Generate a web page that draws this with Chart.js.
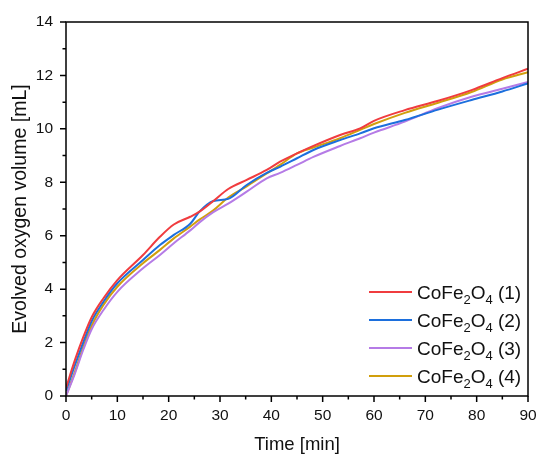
<!DOCTYPE html>
<html>
<head>
<meta charset="utf-8">
<script src="https://cdn.jsdelivr.net/npm/chart.js@4/dist/chart.umd.min.js"></script>
<style>
  html, body { margin: 0; padding: 0; background: #fff; }
  #wrap { width: 539px; height: 454px; }
</style>
</head>
<body>
<div id="wrap"><canvas id="chart" width="539" height="454"></canvas></div>
<script>
// ========================
// DATA
// ========================
const times   = [0, 1.75, 3.4, 5, 7.3, 10, 15, 18.3, 21, 24.2, 26, 28.7, 31.6, 35.2, 39.1, 41.7, 45, 48.2, 53.4, 57.3, 60, 66, 72.5, 79, 85, 90];
const sample1 = [0.3, 1.35, 2.22, 2.95, 3.66, 4.34, 5.28, 5.96, 6.42, 6.71, 6.9, 7.3, 7.75, 8.09, 8.46, 8.77, 9.08, 9.36, 9.77, 10.02, 10.3, 10.7, 11.05, 11.45, 11.9, 12.25];
const sample2 = [0.2, 1.16, 2.03, 2.8, 3.53, 4.22, 5.09, 5.65, 6.03, 6.45, 6.9, 7.3, 7.38, 7.9, 8.35, 8.58, 8.9, 9.21, 9.58, 9.83, 10.02, 10.33, 10.72, 11.08, 11.4, 11.7];
const sample3 = [0, 0.85, 1.75, 2.5, 3.22, 3.9, 4.78, 5.28, 5.72, 6.2, 6.5, 6.88, 7.2, 7.65, 8.15, 8.35, 8.65, 8.95, 9.36, 9.65, 9.86, 10.27, 10.78, 11.2, 11.5, 11.76];
const sample4 = [0, 0.91, 1.85, 2.63, 3.41, 4.09, 4.97, 5.47, 5.9, 6.34, 6.6, 6.95, 7.43, 7.85, 8.33, 8.65, 9.08, 9.3, 9.65, 9.96, 10.18, 10.6, 10.98, 11.38, 11.85, 12.12];
const seriesLabels = ['CoFe2O4 (1)', 'CoFe2O4 (2)', 'CoFe2O4 (3)', 'CoFe2O4 (4)'];
const seriesColors = ['#F03C3F', '#1C6FDD', '#B57BE6', '#D19F0C'];

const FONT = "'Liberation Sans', Arial, sans-serif";

function toPoints(vals) {
    return vals.map((v, i) => ({ x: times[i], y: v }));
}

const datasets = [sample1, sample2, sample3, sample4].map((vals, i) => ({
    label: seriesLabels[i],
    data: toPoints(vals),
    borderColor: seriesColors[i],
    backgroundColor: seriesColors[i],
    borderWidth: 2,
    pointRadius: 0,
    tension: 0.3,
    cubicInterpolationMode: 'monotone'
}));

// ========================
// FRAME + MAJOR/MINOR TICKS
// ========================
const frameTicks = {
    id: 'frameTicks',
    afterDraw(chart) {
        const { ctx, chartArea: a, scales: { x, y } } = chart;
        ctx.save();
        ctx.strokeStyle = '#000';
        ctx.lineWidth = 1.5;
        ctx.strokeRect(a.left, a.top, a.right - a.left, a.bottom - a.top);
        ctx.beginPath();
        for (let v = x.min; v <= x.max; v += 5) {
            const px = x.getPixelForValue(v);
            const len = v % 10 === 0 ? 6 : 3.5;
            ctx.moveTo(px, a.bottom);
            ctx.lineTo(px, a.bottom + len);
        }
        for (let v = y.min; v <= y.max; v += 1) {
            const py = y.getPixelForValue(v);
            const len = v % 2 === 0 ? 6 : 3.5;
            ctx.moveTo(a.left, py);
            ctx.lineTo(a.left - len, py);
        }
        ctx.stroke();
        ctx.restore();
    }
};

// ========================
// LEGEND (with subscripts)
// ========================
const subLegend = {
    id: 'subLegend',
    afterDraw(chart) {
        const { ctx, chartArea: a } = chart;
        const lineX0 = a.right - 159, lineX1 = a.right - 116, textX = a.right - 111;
        const rowY0 = a.bottom - 104, rowH = 28;
        ctx.save();
        chart.data.datasets.forEach((ds, i) => {
            const yy = rowY0 + i * rowH;
            ctx.strokeStyle = ds.borderColor;
            ctx.lineWidth = 2;
            ctx.beginPath();
            ctx.moveTo(lineX0, yy);
            ctx.lineTo(lineX1, yy);
            ctx.stroke();

            // digits inside the formula become subscripts
            let cx = textX;
            ctx.fillStyle = '#111';
            ctx.textBaseline = 'alphabetic';
            const base = yy + 7;
            let inFormula = true;
            ds.label.split('').forEach((ch, k) => {
                if (ch === ' ') inFormula = false;
                const isSub = inFormula && /\d/.test(ch) && k > 0;
                ctx.font = isSub ? '13px ' + FONT : '19px ' + FONT;
                ctx.fillText(ch, cx, isSub ? base + 5 : base);
                cx += ctx.measureText(ch).width;
            });
        });
        ctx.restore();
    }
};

new Chart(document.getElementById('chart'), {
    type: 'line',
    data: { datasets: datasets },
    options: {
        responsive: false,
        animation: false,
        layout: { padding: { top: 22, right: 11, left: 0, bottom: 0 } },
        plugins: {
            legend: { display: false },
            tooltip: { enabled: false }
        },
        scales: {
            x: {
                type: 'linear',
                min: 0,
                max: 90,
                afterFit(scale) {
                    scale.height = 58;
                    scale.paddingLeft = 0;
                    scale.paddingRight = 0;
                },
                border: { display: false },
                grid: { display: false, drawTicks: false },
                ticks: {
                    stepSize: 10,
                    padding: 10,
                    color: '#111',
                    maxRotation: 0,
                    font: { family: FONT, size: 15.5 }
                },
                title: {
                    display: true,
                    text: 'Time [min]',
                    color: '#111',
                    padding: { top: 0, bottom: 0 },
                    font: { family: FONT, size: 18.5, lineHeight: 1 }
                }
            },
            y: {
                min: 0,
                max: 14,
                afterFit(scale) {
                    scale.width = 66;
                    scale.paddingTop = 0;
                    scale.paddingBottom = 0;
                },
                border: { display: false },
                grid: { display: false, drawTicks: false },
                ticks: {
                    stepSize: 2,
                    padding: 13,
                    color: '#111',
                    font: { family: FONT, size: 15.5 }
                },
                title: {
                    display: true,
                    text: 'Evolved oxygen volume [mL]',
                    color: '#111',
                    padding: { top: 11, bottom: 0 },
                    font: { family: FONT, size: 19.5, lineHeight: 1 }
                }
            }
        }
    },
    plugins: [frameTicks, subLegend]
});
</script>
</body>
</html>
